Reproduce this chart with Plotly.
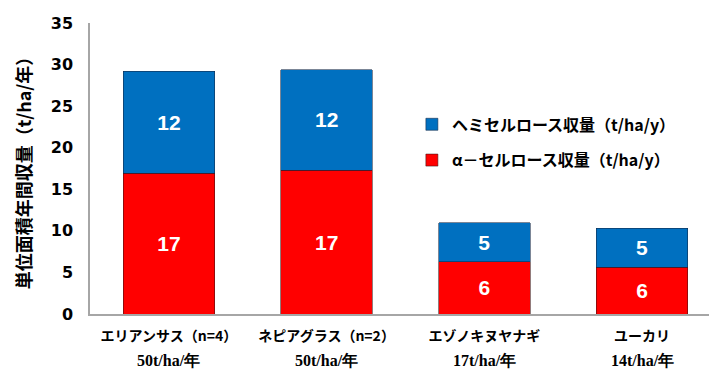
import plotly.graph_objects as go

# Species and their dry-matter productivity
species = ["エリアンサス（n=4）", "ネピアグラス（n=2）", "エゾノキヌヤナギ", "ユーカリ"]
productivity = ["50t/ha/年", "50t/ha/年", "17t/ha/年", "14t/ha/年"]

# Annual yield per unit area (t/ha/y)
alpha_cellulose = [16.9, 17.3, 6.3, 5.6]
hemicellulose = [12.3, 12.1, 4.7, 4.7]

RED = "#FF0000"
BLUE = "#0070C0"
AXIS_GRAY = "#A6A6A6"

bar_text_font = dict(family="Liberation Sans", size=21, color="white", weight="bold")

fig = go.Figure()

fig.add_trace(go.Bar(
    x=species, y=alpha_cellulose,
    name="α－セルロース収量（t/ha/y）",
    legendgroup="a", legendrank=2,
    marker=dict(color=RED, line=dict(color="rgba(60,20,20,0.7)", width=0.8)),
    texttemplate="%{y:.0f}", textposition="inside", insidetextanchor="middle",
    textfont=bar_text_font,
    constraintext="none",
))
fig.add_trace(go.Bar(
    x=species, y=hemicellulose,
    name="ヘミセルロース収量（t/ha/y）",
    legendgroup="b", legendrank=1,
    marker=dict(color=BLUE, line=dict(color="rgba(20,40,70,0.7)", width=0.8)),
    texttemplate="%{y:.0f}", textposition="inside", insidetextanchor="middle",
    textfont=bar_text_font,
    constraintext="none",
))

# Productivity line under each category name
for sp, prod in zip(species, productivity):
    fig.add_annotation(
        x=sp, y=0, xref="x", yref="paper", yanchor="middle",
        yshift=-46, text=f"<b>{prod}</b>", showarrow=False,
        font=dict(family="Liberation Serif", size=16, color="black"),
    )

fig.update_layout(
    width=709, height=376,
    margin=dict(l=90, r=0, t=23, b=62),
    paper_bgcolor="white", plot_bgcolor="white",
    barmode="stack", bargap=0.42,
    showlegend=True,
    legend=dict(
        x=0.52, y=0.71, xanchor="left", yanchor="top",
        traceorder="grouped", tracegroupgap=12,
        font=dict(family="Noto Sans CJK JP", size=16, color="black", weight="bold"),
        bgcolor="rgba(0,0,0,0)",
    ),
    xaxis=dict(
        range=[-0.5, 3.424],
        showline=True, linecolor=AXIS_GRAY, linewidth=2,
        ticks="", ticklabelstandoff=8,
        tickfont=dict(family="Noto Sans CJK JP", size=14, color="black", weight="bold"),
        showgrid=False,
    ),
    yaxis=dict(
        range=[0, 35], dtick=5,
        showline=True, linecolor=AXIS_GRAY, linewidth=1.5,
        ticks="", ticklabelstandoff=12,
        tickfont=dict(family="DejaVu Sans", size=16, color="black", weight="bold"),
        showgrid=False, zeroline=False,
        title=dict(
            text="単位面積年間収量（t/ha/年）",
            font=dict(family="Noto Sans CJK JP", size=18, color="black", weight="bold"),
            standoff=14,
        ),
    ),
)

fig.write_html("out.html")
